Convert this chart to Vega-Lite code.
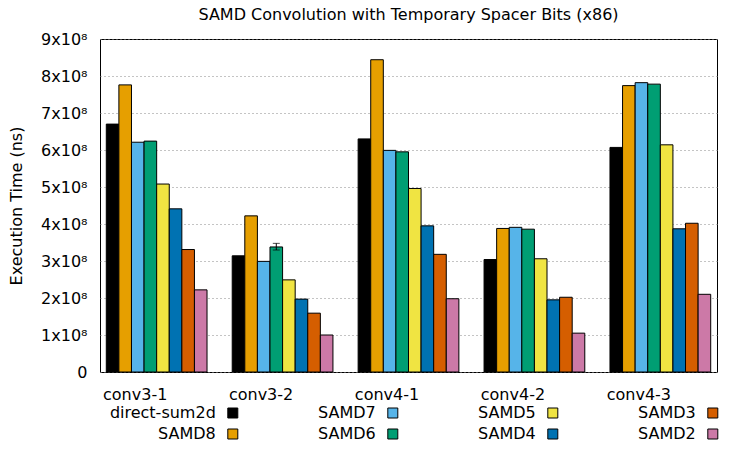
{
  "$schema": "https://vega.github.io/schema/vega-lite/v6.json",
  "width": 617,
  "height": 333,
  "autosize": {"type": "none"},
  "padding": {"left": 100, "top": 39, "right": 30, "bottom": 77},
  "title": {"text": "SAMD Convolution with Temporary Spacer Bits (x86)", "fontSize": 16, "fontWeight": "normal", "font": "DejaVu Sans", "color": "#000", "offset": 8},
  "config": {
    "font": "DejaVu Sans",
    "view": {"stroke": "#000", "strokeWidth": 1},
    "axis": {"labelFontSize": 16, "labelColor": "#000", "titleFontSize": 16, "titleFontWeight": "normal", "titleColor": "#000", "domain": false, "ticks": false},
    "axisY": {"labelOverlap": false, "labelFlush": false, "labelPadding": 13, "titlePadding": 16, "grid": true, "gridColor": "#888888", "gridDash": [1, 3], "gridWidth": 1}
  },
  "data": {"values": [
    {"group": "conv3-1", "series": "direct-sum2d", "time": 670000000},
    {"group": "conv3-1", "series": "SAMD8", "time": 776000000},
    {"group": "conv3-1", "series": "SAMD7", "time": 621000000},
    {"group": "conv3-1", "series": "SAMD6", "time": 624000000},
    {"group": "conv3-1", "series": "SAMD5", "time": 508000000},
    {"group": "conv3-1", "series": "SAMD4", "time": 441000000},
    {"group": "conv3-1", "series": "SAMD3", "time": 331000000},
    {"group": "conv3-1", "series": "SAMD2", "time": 222000000},
    {"group": "conv3-2", "series": "direct-sum2d", "time": 314000000},
    {"group": "conv3-2", "series": "SAMD8", "time": 422000000},
    {"group": "conv3-2", "series": "SAMD7", "time": 299000000},
    {"group": "conv3-2", "series": "SAMD6", "time": 338000000, "lo": 329700000, "hi": 347700000},
    {"group": "conv3-2", "series": "SAMD5", "time": 249000000},
    {"group": "conv3-2", "series": "SAMD4", "time": 197000000},
    {"group": "conv3-2", "series": "SAMD3", "time": 159000000},
    {"group": "conv3-2", "series": "SAMD2", "time": 100000000},
    {"group": "conv4-1", "series": "direct-sum2d", "time": 630000000},
    {"group": "conv4-1", "series": "SAMD8", "time": 844000000},
    {"group": "conv4-1", "series": "SAMD7", "time": 599000000},
    {"group": "conv4-1", "series": "SAMD6", "time": 595000000},
    {"group": "conv4-1", "series": "SAMD5", "time": 496000000},
    {"group": "conv4-1", "series": "SAMD4", "time": 395000000},
    {"group": "conv4-1", "series": "SAMD3", "time": 318000000},
    {"group": "conv4-1", "series": "SAMD2", "time": 198000000},
    {"group": "conv4-2", "series": "direct-sum2d", "time": 304000000},
    {"group": "conv4-2", "series": "SAMD8", "time": 388000000},
    {"group": "conv4-2", "series": "SAMD7", "time": 391000000},
    {"group": "conv4-2", "series": "SAMD6", "time": 386000000},
    {"group": "conv4-2", "series": "SAMD5", "time": 306000000},
    {"group": "conv4-2", "series": "SAMD4", "time": 195000000},
    {"group": "conv4-2", "series": "SAMD3", "time": 202000000},
    {"group": "conv4-2", "series": "SAMD2", "time": 105000000},
    {"group": "conv4-3", "series": "direct-sum2d", "time": 607000000},
    {"group": "conv4-3", "series": "SAMD8", "time": 774000000},
    {"group": "conv4-3", "series": "SAMD7", "time": 782000000},
    {"group": "conv4-3", "series": "SAMD6", "time": 778000000},
    {"group": "conv4-3", "series": "SAMD5", "time": 614000000},
    {"group": "conv4-3", "series": "SAMD4", "time": 387000000},
    {"group": "conv4-3", "series": "SAMD3", "time": 402000000},
    {"group": "conv4-3", "series": "SAMD2", "time": 210000000}
  ]},
  "encoding": {
    "x": {"field": "group", "type": "nominal", "sort": null,
      "scale": {"paddingInner": 0.2, "paddingOuter": 0.05},
      "axis": {"title": null, "labelAngle": 0, "labelOffset": -21.5, "labelPadding": 14, "labelBaseline": "top"}},
    "xOffset": {"field": "series", "type": "nominal",
      "sort": ["direct-sum2d", "SAMD8", "SAMD7", "SAMD6", "SAMD5", "SAMD4", "SAMD3", "SAMD2"],
      "scale": {"paddingInner": 0, "paddingOuter": 0}}
  },
  "layer": [
    {
      "mark": {"type": "bar", "stroke": "#000", "strokeWidth": 1},
      "encoding": {
        "y": {"field": "time", "type": "quantitative",
          "scale": {"domain": [0, 900000000], "nice": false},
          "axis": {"title": "Execution Time (ns)", "values": [0, 100000000, 200000000, 300000000, 400000000, 500000000, 600000000, 700000000, 800000000, 900000000],
            "labelExpr": "datum.value == 0 ? '0' : format(datum.value / 100000000, 'd') + 'x10⁸'"}},
        "color": {"field": "series", "type": "nominal",
          "scale": {"domain": ["direct-sum2d", "SAMD8", "SAMD7", "SAMD6", "SAMD5", "SAMD4", "SAMD3", "SAMD2"],
            "range": ["#000000", "#e69f00", "#56b4e9", "#009e73", "#f0e442", "#0072b2", "#d55e00", "#cc79a7"]},
          "legend": {"title": null, "orient": "none", "legendX": 3.8, "legendY": 366, "direction": "vertical", "columns": 4,
            "symbolType": "square", "symbolSize": 100, "symbolStrokeColor": "#000", "symbolStrokeWidth": 1, "symbolOpacity": 1,
            "labelFontSize": 16, "labelFont": "DejaVu Sans", "labelColor": "#000", "labelAlign": "right", "labelOffset": -25, "symbolOffset": 121,
            "rowPadding": 5, "columnPadding": 24, "padding": 0, "labelLimit": 0, "gridAlign": "each"}}
      }
    },
    {
      "transform": [{"filter": "isValid(datum.lo)"}],
      "mark": {"type": "rule", "color": "#000", "strokeWidth": 1},
      "encoding": {
        "y": {"field": "lo", "type": "quantitative",
          "axis": {"title": "Execution Time (ns)", "values": [0, 100000000, 200000000, 300000000, 400000000, 500000000, 600000000, 700000000, 800000000, 900000000],
            "labelExpr": "datum.value == 0 ? '0' : format(datum.value / 100000000, 'd') + 'x10⁸'"}},
        "y2": {"field": "hi"}
      }
    },
    {
      "transform": [{"filter": "isValid(datum.lo)"}],
      "mark": {"type": "tick", "color": "#000", "thickness": 1, "size": 7, "orient": "horizontal"},
      "encoding": {"y": {"field": "lo", "type": "quantitative",
          "axis": {"title": "Execution Time (ns)", "values": [0, 100000000, 200000000, 300000000, 400000000, 500000000, 600000000, 700000000, 800000000, 900000000],
            "labelExpr": "datum.value == 0 ? '0' : format(datum.value / 100000000, 'd') + 'x10⁸'"}}}
    },
    {
      "transform": [{"filter": "isValid(datum.hi)"}],
      "mark": {"type": "tick", "color": "#000", "thickness": 1, "size": 7, "orient": "horizontal"},
      "encoding": {"y": {"field": "hi", "type": "quantitative",
          "axis": {"title": "Execution Time (ns)", "values": [0, 100000000, 200000000, 300000000, 400000000, 500000000, 600000000, 700000000, 800000000, 900000000],
            "labelExpr": "datum.value == 0 ? '0' : format(datum.value / 100000000, 'd') + 'x10⁸'"}}}
    }
  ]
}
